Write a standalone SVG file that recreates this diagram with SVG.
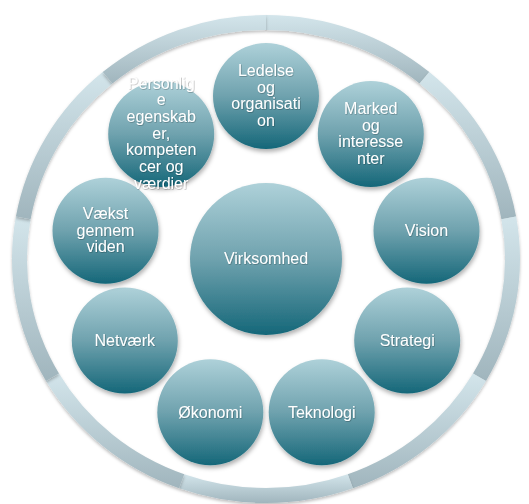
<svg xmlns="http://www.w3.org/2000/svg" width="529" height="504" viewBox="0 0 529 504">
  <defs>
    <linearGradient id="ringGrad" x1="0" y1="0" x2="0" y2="1">
      <stop offset="0" stop-color="#d3e5eb"/>
      <stop offset="1" stop-color="#a0b5bd"/>
    </linearGradient>
    <linearGradient id="nodeGrad" x1="0" y1="0" x2="0" y2="1">
      <stop offset="0" stop-color="#aed1d9"/>
      <stop offset="0.5" stop-color="#6fa2ae"/>
      <stop offset="1" stop-color="#156779"/>
    </linearGradient>
    <filter id="shadow" x="-20%" y="-20%" width="140%" height="140%">
      <feDropShadow dx="1" dy="3" stdDeviation="2" flood-color="#000" flood-opacity="0.3"/>
    </filter>
    <filter id="ringShadow" x="-10%" y="-10%" width="120%" height="120%">
      <feDropShadow dx="0" dy="2" stdDeviation="1.5" flood-color="#000" flood-opacity="0.25"/>
    </filter>
    <filter id="textShadow" x="-10%" y="-10%" width="120%" height="120%">
      <feDropShadow dx="0.6" dy="0.6" stdDeviation="0.6" flood-color="#000" flood-opacity="0.35"/>
    </filter>
    <style>
      .seg { fill: url(#ringGrad); filter: url(#ringShadow); }
      .node circle { fill: url(#nodeGrad); filter: url(#shadow); }
      .node text { fill: #ffffff; font-family: "Liberation Sans", Arial, sans-serif; font-size: 16px; text-anchor: middle; filter: url(#textShadow); }
    </style>
  </defs>
  <rect width="529" height="504" fill="#ffffff"/>

  <g id="ring">
    <path class="seg" d="M266,15 A254,244 0 0 1 429.3,72.1 L419.6,83.6 A239,229 0 0 0 266,30 Z"/>
    <path class="seg" d="M429.3,72.1 A254,244 0 0 1 516.1,216.6 L501.4,219.2 A239,229 0 0 0 419.6,83.6 Z"/>
    <path class="seg" d="M516.1,216.6 A254,244 0 0 1 486.0,381.0 L473.0,373.5 A239,229 0 0 0 501.4,219.2 Z"/>
    <path class="seg" d="M486.0,381.0 A254,244 0 0 1 352.9,488.3 L347.7,474.2 A239,229 0 0 0 473.0,373.5 Z"/>
    <path class="seg" d="M352.9,488.3 A254,244 0 0 1 179.1,488.3 L184.3,474.2 A239,229 0 0 0 347.7,474.2 Z"/>
    <path class="seg" d="M179.1,488.3 A254,244 0 0 1 46.0,381.0 L59.0,373.5 A239,229 0 0 0 184.3,474.2 Z"/>
    <path class="seg" d="M46.0,381.0 A254,244 0 0 1 15.9,216.6 L30.6,219.2 A239,229 0 0 0 59.0,373.5 Z"/>
    <path class="seg" d="M15.9,216.6 A254,244 0 0 1 102.7,72.1 L112.4,83.6 A239,229 0 0 0 30.6,219.2 Z"/>
    <path class="seg" d="M102.7,72.1 A254,244 0 0 1 266,15 L266,30 A239,229 0 0 0 112.4,83.6 Z"/>
  </g>

  <g id="connectors"></g>

  <g id="node-virksomhed" class="node">
    <circle cx="266" cy="259" r="76"/>
    <text x="266" y="264">Virksomhed</text>
  </g>

  <g id="node-ledelse" class="node">
    <circle cx="266" cy="96" r="53"/>
    <text x="266" y="76">Ledelse</text>
    <text x="266" y="92.7">og</text>
    <text x="266" y="109.4">organisati</text>
    <text x="266" y="126.1">on</text>
  </g>

  <g id="node-marked" class="node">
    <circle cx="370.8" cy="134.1" r="53"/>
    <text x="370.8" y="114">Marked</text>
    <text x="370.8" y="130.7">og</text>
    <text x="370.8" y="147.4">interesse</text>
    <text x="370.8" y="164.1">nter</text>
  </g>

  <g id="node-vision" class="node">
    <circle cx="426.5" cy="230.7" r="53"/>
    <text x="426.5" y="236">Vision</text>
  </g>

  <g id="node-strategi" class="node">
    <circle cx="407.2" cy="340.5" r="53"/>
    <text x="407.2" y="346">Strategi</text>
  </g>

  <g id="node-teknologi" class="node">
    <circle cx="321.7" cy="412.2" r="53"/>
    <text x="321.7" y="418">Teknologi</text>
  </g>

  <g id="node-okonomi" class="node">
    <circle cx="210.3" cy="412.2" r="53"/>
    <text x="210.3" y="418">Økonomi</text>
  </g>

  <g id="node-netvaerk" class="node">
    <circle cx="124.8" cy="340.5" r="53"/>
    <text x="124.8" y="346">Netværk</text>
  </g>

  <g id="node-vaekst" class="node">
    <circle cx="105.5" cy="230.7" r="53"/>
    <text x="105.5" y="219">Vækst</text>
    <text x="105.5" y="235.7">gennem</text>
    <text x="105.5" y="252.4">viden</text>
  </g>

  <g id="node-personlige" class="node">
    <circle cx="161.2" cy="134.1" r="53"/>
    <text x="161.2" y="88.5">Personlig</text>
    <text x="161.2" y="105.2">e</text>
    <text x="161.2" y="121.9">egenskab</text>
    <text x="161.2" y="138.6">er,</text>
    <text x="161.2" y="155.3">kompeten</text>
    <text x="161.2" y="172">cer og</text>
    <text x="161.2" y="188.7">værdier</text>
  </g>
</svg>
